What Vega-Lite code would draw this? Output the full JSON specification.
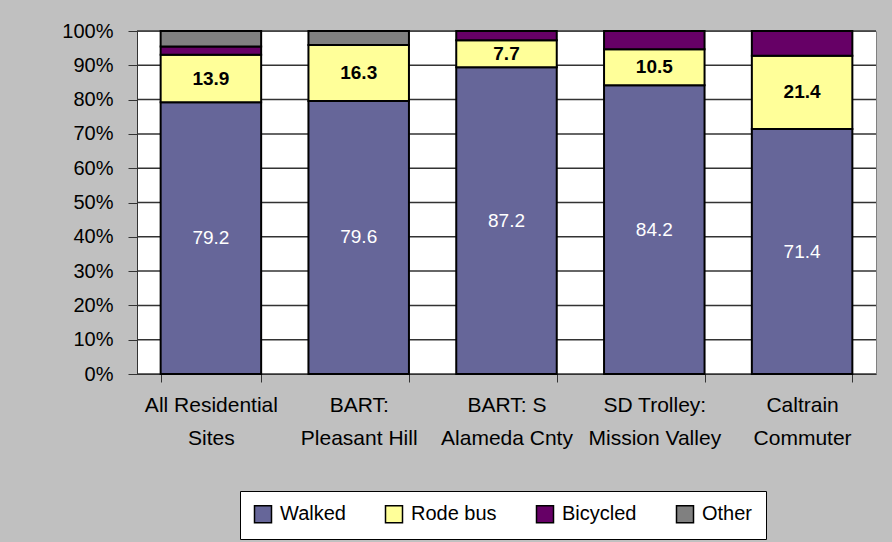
{
  "$schema": "https://vega.github.io/schema/vega-lite/v6.json",
  "width": 739,
  "height": 343,
  "autosize": {"type": "none"},
  "padding": {"left": 137, "top": 31, "right": 16, "bottom": 168},
  "background": "#C0C0C0",
  "config": {
    "view": {"fill": "white", "stroke": "#808080", "strokeWidth": 1},
    "font": "Liberation Sans, Arial, sans-serif",
    "axisY": {
      "title": null,
      "format": ".0%",
      "tickColor": "#333333",
      "domainColor": "#333333",
      "tickSize": 9,
      "labelPadding": 15,
      "labelFontSize": 20,
      "labelColor": "black",
      "labelOverlap": false
    }
  },
  "datasets": {
    "gridlevels": [
      {"level": 0}, {"level": 0.1}, {"level": 0.2}, {"level": 0.3}, {"level": 0.4}, {"level": 0.5},
      {"level": 0.6}, {"level": 0.7}, {"level": 0.8}, {"level": 0.9}, {"level": 1}
    ],
    "trips": [
      {"site": "All Residential Sites", "mode": "Walked", "pct": 79.2},
      {"site": "All Residential Sites", "mode": "Rode bus", "pct": 13.9},
      {"site": "All Residential Sites", "mode": "Bicycled", "pct": 2.4},
      {"site": "All Residential Sites", "mode": "Other", "pct": 4.5},
      {"site": "BART: Pleasant Hill", "mode": "Walked", "pct": 79.6},
      {"site": "BART: Pleasant Hill", "mode": "Rode bus", "pct": 16.3},
      {"site": "BART: Pleasant Hill", "mode": "Other", "pct": 4.1},
      {"site": "BART: S Alameda Cnty", "mode": "Walked", "pct": 87.2},
      {"site": "BART: S Alameda Cnty", "mode": "Rode bus", "pct": 7.7},
      {"site": "BART: S Alameda Cnty", "mode": "Bicycled", "pct": 2.6},
      {"site": "SD Trolley: Mission Valley", "mode": "Walked", "pct": 84.2},
      {"site": "SD Trolley: Mission Valley", "mode": "Rode bus", "pct": 10.5},
      {"site": "SD Trolley: Mission Valley", "mode": "Bicycled", "pct": 5.3},
      {"site": "Caltrain Commuter", "mode": "Walked", "pct": 71.4},
      {"site": "Caltrain Commuter", "mode": "Rode bus", "pct": 21.4},
      {"site": "Caltrain Commuter", "mode": "Bicycled", "pct": 7.2}
    ]
  },
  "layer": [
    {
      "data": {"name": "gridlevels"},
      "mark": {"type": "rule", "color": "#333333", "strokeWidth": 1.5},
      "encoding": {
        "y": {
          "field": "level",
          "type": "quantitative",
          "scale": {"domain": [0, 1]},
          "axis": {"values": [0, 0.1, 0.2, 0.3, 0.4, 0.5, 0.6, 0.7, 0.8, 0.9, 1], "format": ".0%", "grid": false}
        }
      }
    },
    {
      "data": {"name": "trips"},
      "transform": [
        {"calculate": "indexof(['Walked','Rode bus','Bicycled','Other'], datum.mode)", "as": "rank"},
        {"stack": "pct", "groupby": ["site"], "sort": [{"field": "rank", "order": "ascending"}], "offset": "normalize", "as": ["v0", "v1"]},
        {"calculate": "(datum.v0 + datum.v1) / 2", "as": "mid"}
      ],
      "encoding": {
        "x": {
          "field": "site",
          "type": "nominal",
          "sort": ["All Residential Sites", "BART: Pleasant Hill", "BART: S Alameda Cnty", "SD Trolley: Mission Valley", "Caltrain Commuter"],
          "scale": {"paddingInner": 0.32, "paddingOuter": 0.16},
          "axis": {
            "title": null,
            "labelAngle": 0,
            "tickBand": "extent",
            "tickSize": 8,
            "tickColor": "#333333",
            "domainColor": "#333333",
            "labelFontSize": 21,
            "labelColor": "black",
            "labelLineHeight": 33,
            "labelPadding": 12,
            "labelLimit": 200,
            "labelOverlap": false,
            "grid": false,
            "labelExpr": "datum.value == 'All Residential Sites' ? ['All Residential', 'Sites'] : datum.value == 'BART: Pleasant Hill' ? ['BART:', 'Pleasant Hill'] : datum.value == 'BART: S Alameda Cnty' ? ['BART: S', 'Alameda Cnty'] : datum.value == 'SD Trolley: Mission Valley' ? ['SD Trolley:', 'Mission Valley'] : datum.value == 'Caltrain Commuter' ? ['Caltrain', 'Commuter'] : ''"
          }
        }
      },
      "layer": [
        {
          "mark": {"type": "bar", "stroke": "black", "strokeWidth": 2, "opacity": 1},
          "encoding": {
            "y": {
              "field": "v0",
              "type": "quantitative",
              "axis": {"values": [0, 0.1, 0.2, 0.3, 0.4, 0.5, 0.6, 0.7, 0.8, 0.9, 1], "format": ".0%", "grid": false}
            },
            "y2": {"field": "v1"},
            "color": {
              "field": "mode",
              "type": "nominal",
              "scale": {"domain": ["Walked", "Rode bus", "Bicycled", "Other"], "range": ["#666699", "#FFFF99", "#660066", "#808080"]},
              "legend": {
                "title": null,
                "orient": "none",
                "direction": "horizontal",
                "legendX": 103,
                "legendY": 460,
                "fillColor": "white",
                "strokeColor": "black",
                "padding": 13,
                "columnPadding": 36,
                "labelOffset": 7,
                "labelFontSize": 20,
                "labelColor": "black",
                "symbolType": "square",
                "symbolSize": 289,
                "symbolStrokeColor": "black",
                "symbolStrokeWidth": 1.5,
                "symbolOpacity": 1
              }
            }
          }
        },
        {
          "transform": [{"filter": "datum.mode == 'Walked'"}],
          "mark": {"type": "text", "color": "white", "fontSize": 19},
          "encoding": {
            "y": {
              "field": "mid",
              "type": "quantitative",
              "axis": {"values": [0, 0.1, 0.2, 0.3, 0.4, 0.5, 0.6, 0.7, 0.8, 0.9, 1], "format": ".0%", "grid": false}
            },
            "text": {"field": "pct", "type": "quantitative", "format": ".1f"}
          }
        },
        {
          "transform": [{"filter": "datum.mode == 'Rode bus'"}],
          "mark": {"type": "text", "color": "black", "fontSize": 19, "fontWeight": "bold"},
          "encoding": {
            "y": {
              "field": "mid",
              "type": "quantitative",
              "axis": {"values": [0, 0.1, 0.2, 0.3, 0.4, 0.5, 0.6, 0.7, 0.8, 0.9, 1], "format": ".0%", "grid": false}
            },
            "text": {"field": "pct", "type": "quantitative", "format": ".1f"}
          }
        }
      ]
    }
  ]
}
